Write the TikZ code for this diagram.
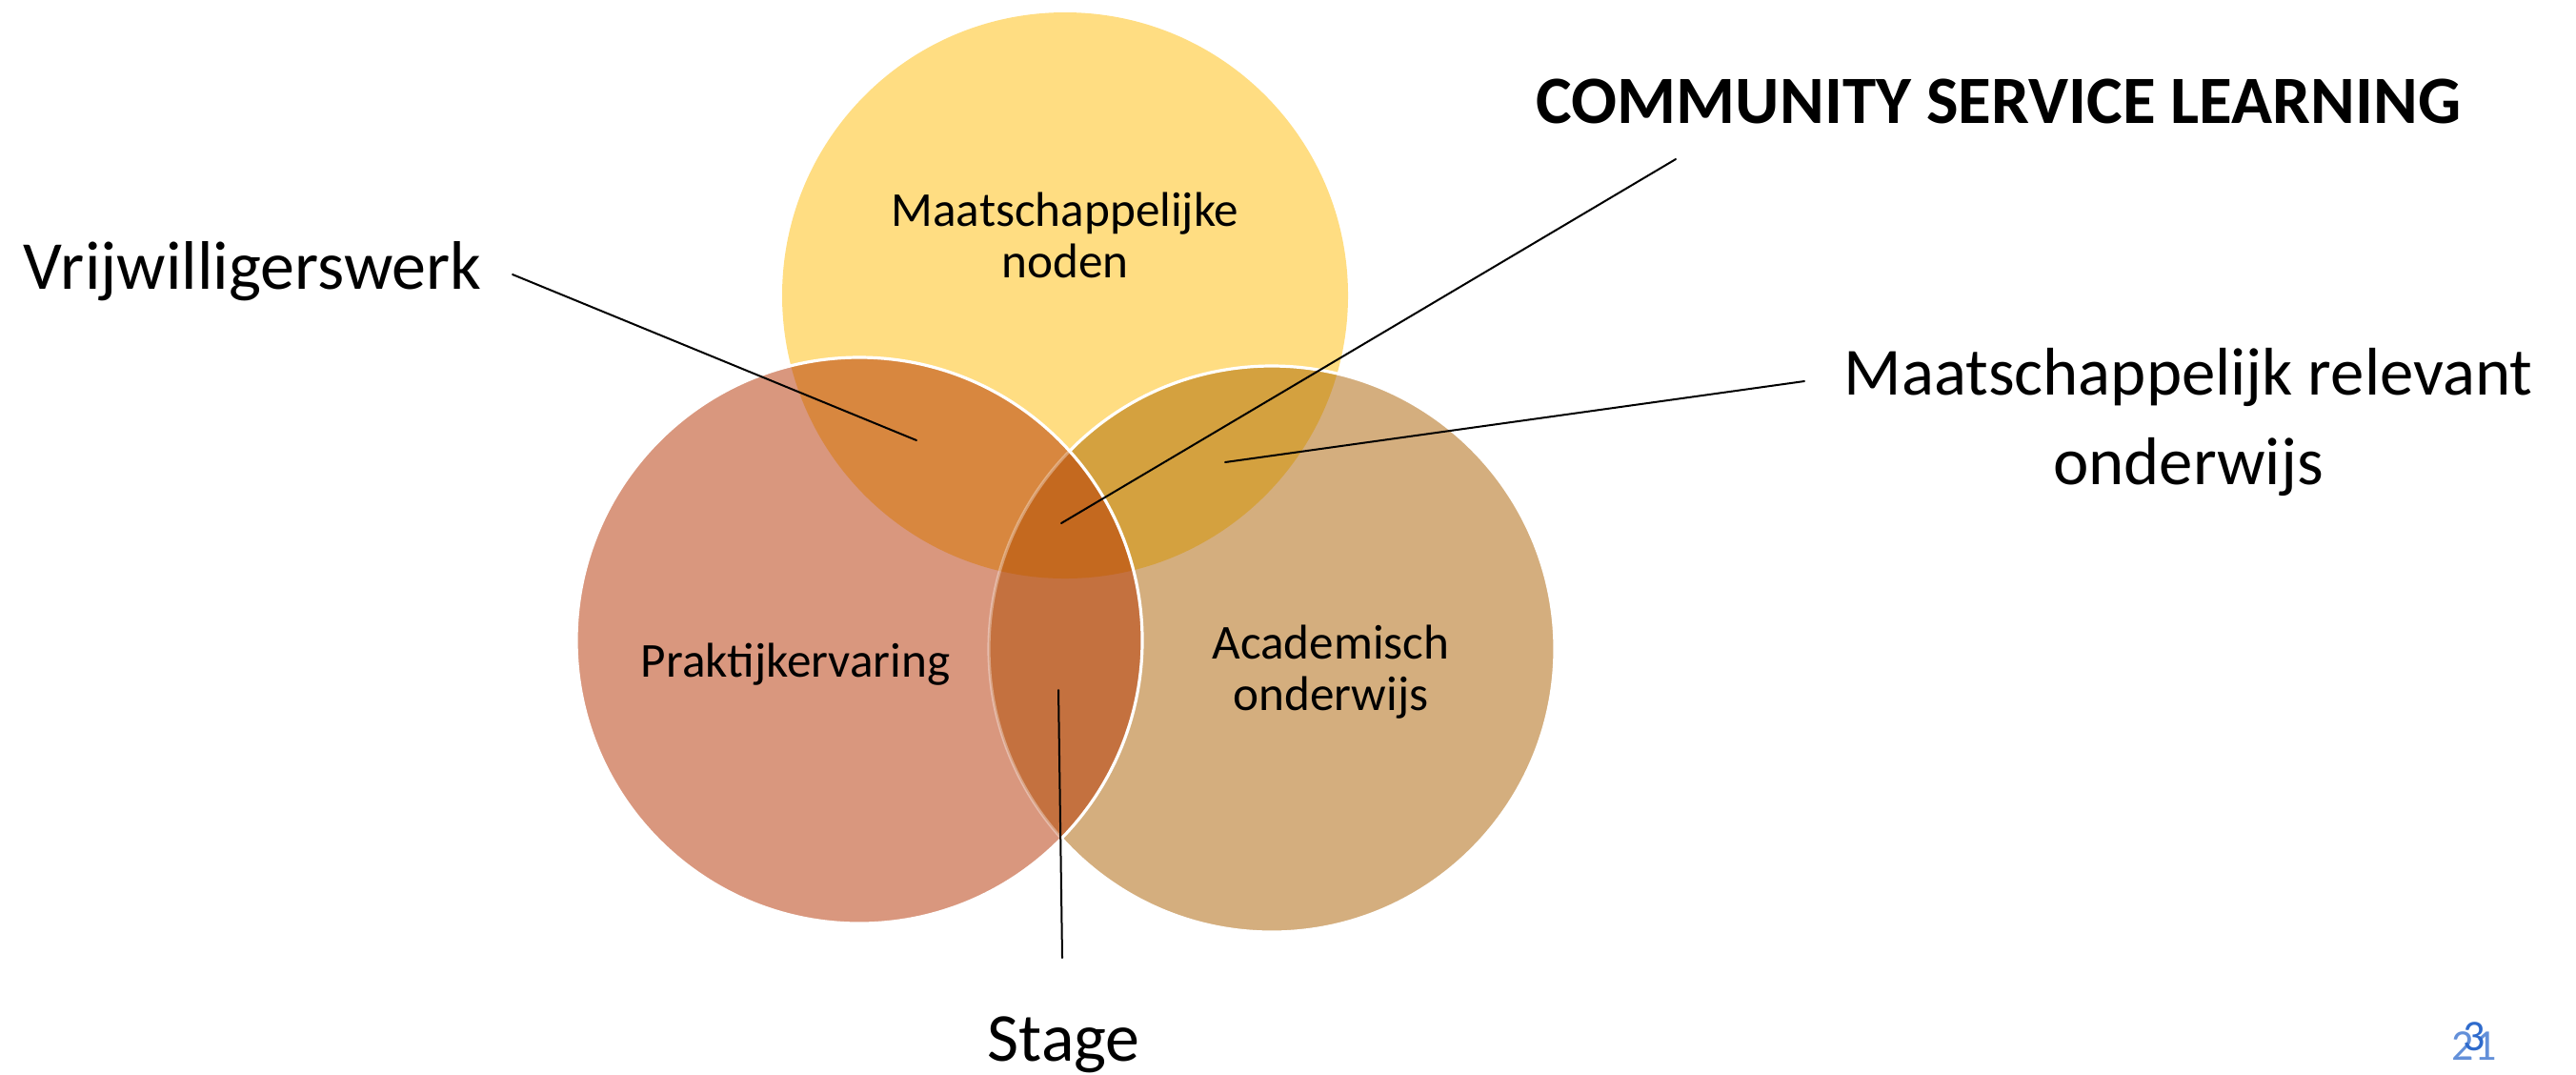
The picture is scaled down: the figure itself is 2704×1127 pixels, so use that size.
\documentclass[tikz,border=0pt]{standalone}
\usepackage{fontspec}
\setmainfont{Carlito}

\definecolor{needyellow}{HTML}{FFDD82}
\definecolor{practsalmon}{HTML}{D9977E}
\definecolor{acadtan}{HTML}{D4AE7E}
\definecolor{volorange}{HTML}{D8873F}
\definecolor{relgold}{HTML}{D4A13F}
\definecolor{stagebrown}{HTML}{C4713F}
\definecolor{cslbrown}{HTML}{C4691F}
\definecolor{pageblue}{HTML}{2F6BCC}

\begin{document}
\begin{tikzpicture}[%
        x = 0.25pt,
        y = -0.25pt,
        line cap = round,
        bigtext/.style = {%
            inner sep = 0pt,
            font = \fontsize{18}{23.75}\selectfont
        },
        circletext/.style = {%
            inner sep = 0pt,
            align = center,
            font = \fontsize{12.8}{13.5}\selectfont
        },
        pointer/.style = {%
            draw = black,
            line width = 0.5pt
        },
        rim/.style = {%
            draw = white,
            line width = 0.8pt
        }
    ]
        \useasboundingbox (0, 0) rectangle (2704, 1127);
        % centres of the three circles
        \coordinate (needs) at (1118, 310);
        \coordinate (practice) at (902, 672);
        \coordinate (academic) at (1335, 681);
        \def\rad{297}
        % top circle
        \fill[needyellow] (needs) circle (\rad);
        % right circle
        \fill[acadtan] (academic) circle (\rad);
        \begin{scope}
            \clip (needs) circle (\rad);
            \fill[relgold] (academic) circle (\rad);
        \end{scope}
        \draw[rim] (academic) circle (\rad);
        % left circle
        \fill[practsalmon] (practice) circle (\rad);
        \begin{scope}
            \clip (practice) circle (\rad);
            \fill[volorange] (needs) circle (\rad);
            \fill[stagebrown] (academic) circle (\rad);
            \clip (needs) circle (\rad);
            \fill[cslbrown] (academic) circle (\rad);
        \end{scope}
        \begin{scope}
            \clip (practice) circle (\rad);
            \draw[rim, draw opacity = 0.35] (academic) circle (\rad);
        \end{scope}
        \draw[rim] (practice) circle (\rad);
        % labels in the circles
        \node[circletext] (needslabel) at (1118, 247) {Maatschappelijke\\noden};
        \node[circletext] (practicelabel) at (835, 697) {Praktijkervaring};
        \node[circletext] (academiclabel) at (1397, 705) {Academisch\\onderwijs};
        % labels outside
        \node[bigtext, anchor = base west] (volunteer) at (24, 303) {Vrijwilligerswerk};
        \node[bigtext, anchor = base west, font = \fontsize{17.75}{22}\selectfont\bfseries]
            (csl) at (1612, 129) {COMMUNITY SERVICE LEARNING};
        \node[bigtext, align = center, font = \fontsize{17.7}{23.5}\selectfont]
            (relevant) at (2297, 443) {Maatschappelijk relevant\\onderwijs};
        \node[bigtext, anchor = base west] (stage) at (1036, 1113) {Stage};
        % pointer ends
        \coordinate (volunteer-a) at (538, 288);
        \coordinate (volunteer-b) at (962, 462);
        \coordinate (csl-a) at (1759, 167);
        \coordinate (csl-b) at (1114, 549);
        \coordinate (relevant-a) at (1894, 400);
        \coordinate (relevant-b) at (1286, 485);
        \coordinate (stage-a) at (1115, 1005);
        \coordinate (stage-b) at (1111, 724);
        \draw[pointer] (volunteer-a) -- (volunteer-b);
        \draw[pointer] (csl-a) -- (csl-b);
        \draw[pointer] (relevant-a) -- (relevant-b);
        \draw[pointer] (stage-a) -- (stage-b);
        % slide numbers
        \node[inner sep = 0pt, anchor = base west, text = pageblue, text opacity = 0.75,
            font = \fontsize{11.5}{12}\selectfont] (pageold) at (2573, 1112) {21};
        \node[inner sep = 0pt, anchor = base west, text = pageblue,
            font = \fontsize{11.5}{12}\selectfont] (pagenew) at (2585, 1102) {3};
    \end{tikzpicture}
\end{document}
